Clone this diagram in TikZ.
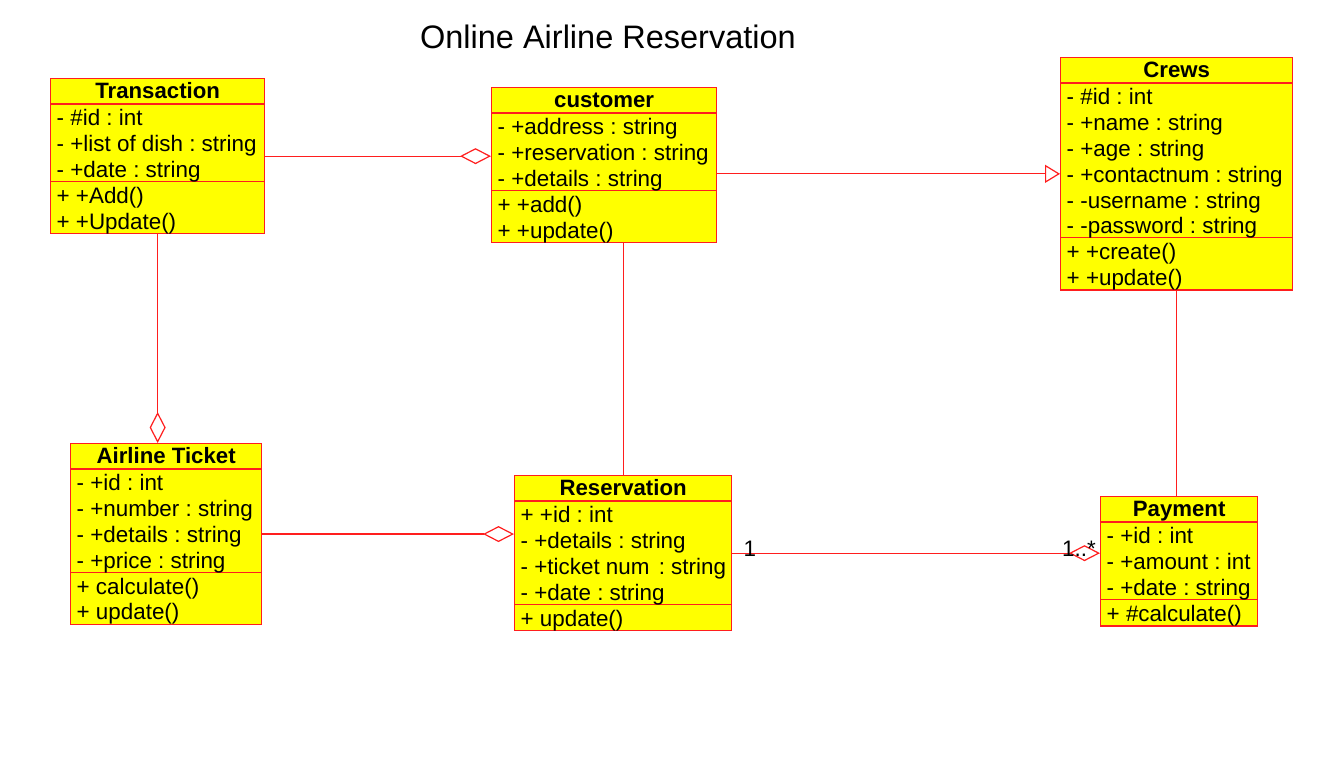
\documentclass[tikz,border=0pt]{standalone}
\usepackage{fontspec}
\setmainfont{Liberation Sans}
\usetikzlibrary{arrows.meta}
\frenchspacing
\definecolor{umlred}{RGB}{255,30,30}
\definecolor{umlyellow}{RGB}{255,255,0}
\tikzset{
  classbox/.style={draw=umlred, fill=umlyellow, line width=1.3pt, inner sep=0pt, rectangle},
  classline/.style={draw=umlred, line width=1.3pt},
  classtitle/.style={inner sep=0pt, font=\fontsize{22.2}{26}\selectfont\bfseries},
  classitem/.style={inner sep=0pt, font=\fontsize{22.4}{26}\selectfont},
  assoc/.style={draw=umlred, line width=1.2pt},
  aggr/.style={assoc, -{Diamond[open, length=31pt, width=16pt, line width=1.2pt]}},
  gener/.style={assoc, -{Triangle[open, length=15pt, width=18pt, line width=1.2pt]}},
  multlabel/.style={inner sep=0pt, font=\fontsize{22.4}{26}\selectfont},
}
% #1 name #2 x #3 y #4 width #5 title #6 n attrs #7 attrs #8 n meths #9 meths
\newcommand\umlclass[9]{%
  \node[classbox, anchor=north west, minimum width=#4, minimum height={26+25.8*(#6+#8)}] (#1) at (#2,#3) {};
  \draw[classline] ([yshift=-26pt]#1.north west) -- ([yshift=-26pt]#1.north east);
  \draw[classline] ([yshift={-26pt-25.8pt*#6}]#1.north west) -- ([yshift={-26pt-25.8pt*#6}]#1.north east);
  \node[classtitle, anchor=base] (#1-t) at ([yshift=-20.5pt]#1.north) {#5};
  \foreach \a [count=\i] in {#7} {
    \node[classitem, anchor=base west] (#1-a\i) at ([xshift=6.5pt, yshift={-26pt-25.8pt*(\i-1)-21.8pt}]#1.north west) {\a};
  }
  \foreach \m [count=\i] in {#9} {
    \node[classitem, anchor=base west] (#1-m\i) at ([xshift=6.5pt, yshift={-26pt-25.8pt*(#6+\i-1)-21.8pt}]#1.north west) {\m};
  }
}
\begin{document}
\begin{tikzpicture}[x=1pt, y=-1pt]
\useasboundingbox[fill=white] (0,0) rectangle (1330,773);

\node[inner sep=0pt, anchor=base, font=\fontsize{32.5}{36}\selectfont] (title) at (608,49) {Online Airline Reservation};

\umlclass{trans}{50}{78}{214}{Transaction}{3}{- \#id : int, - +list of dish : string, - +date : string}{2}{+ +Add(), + +Update()}
\umlclass{cust}{491}{87}{225}{customer}{3}{- +address : string, - +reservation : string, - +details : string}{2}{+ +add(), + +update()}
\umlclass{crews}{1060}{57}{232}{Crews}{6}{- \#id : int, - +name : string, - +age : string, - +contactnum : string, - -username : string, - -password : string}{2}{+ +create(), + +update()}
\umlclass{air}{70}{443}{191}{Airline Ticket}{4}{- +id : int, - +number : string, - +details : string, - +price : string}{2}{+ calculate(), + update()}
\umlclass{res}{514}{475}{217}{Reservation}{4}{+ +id : int, - +details : string, - +ticket num\hspace{3pt} : string, - +date : string}{1}{+ update()}
\umlclass{pay}{1100}{496}{157}{Payment}{3}{- +id : int, - +amount : int, - +date : string}{1}{+ \#calculate()}

% connectors
\draw[aggr] (trans.east) -- (trans.east -| cust.west);
\draw[gener] (crews.west -| cust.east) -- (crews.west);
\draw[aggr] (trans.south) -- (trans.south |- air.north);
\draw[aggr] (air.east) -- (air.east -| res.west);
\draw[assoc] (res.north |- cust.south) -- (res.north);
\draw[assoc] (crews.south) -- (crews.south |- pay.north);
\draw[aggr] (res.east) -- (res.east -| pay.west) coordinate (payin);

\node[multlabel, anchor=base west] (m1) at ([xshift=11pt, yshift=-3pt]res.east) {1};
\node[multlabel, anchor=base east] (m2) at ([xshift=-4pt, yshift=-3pt]payin) {1..*};
\end{tikzpicture}
\end{document}
